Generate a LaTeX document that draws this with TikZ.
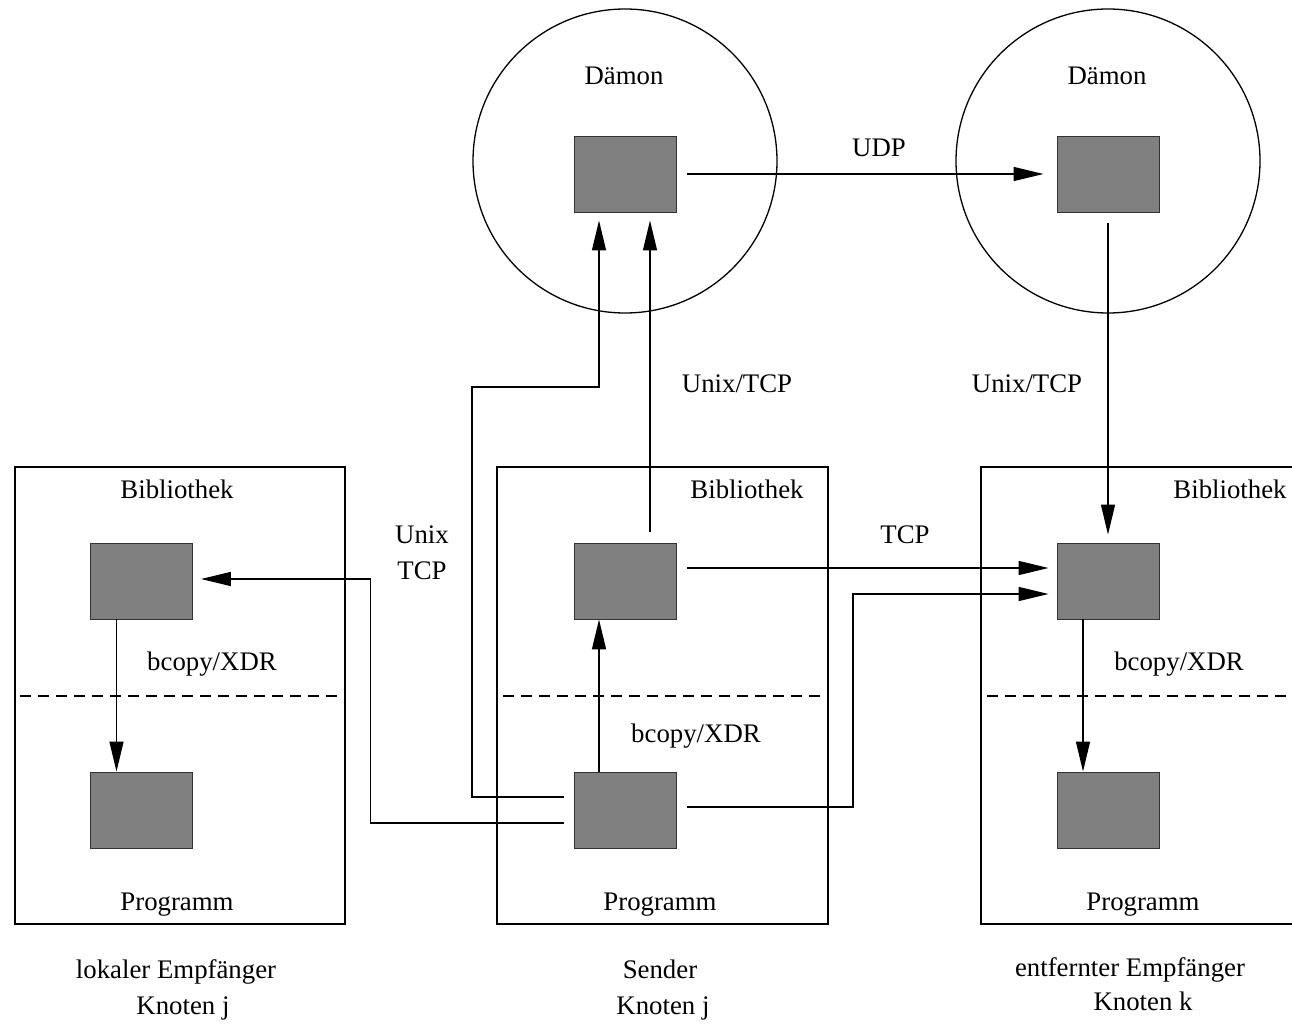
\documentclass[tikz,border=0pt]{standalone}
\usepackage{fontspec}
\setmainfont{Liberation Serif}
\usetikzlibrary{arrows.meta,calc}
\definecolor{sqfill}{HTML}{808080}
\definecolor{sqline}{HTML}{333333}
\tikzset{
  sq/.style={draw=sqline, line width=0.9pt, fill=sqfill, minimum width=102pt, minimum height=76pt, inner sep=0pt},
  container/.style={draw=black, line width=1.5pt, inner sep=0pt},
  daemonring/.style={draw=black, line width=1.3pt, circle, minimum size=304pt, inner sep=0pt},
  conn/.style={draw=black, line width=1.4pt},
  arr/.style={conn, -{Triangle[length=30pt,width=14pt]}},
  sepline/.style={draw=black, line width=1.4pt, dash pattern=on 11pt off 7pt},
  lbl/.style={anchor=base, inner sep=0pt}
}
\begin{document}
\begin{tikzpicture}[x=1pt,y=-1pt,font=\fontsize{26.8pt}{32pt}\selectfont]
\fill[white] (0,0) rectangle (1292,1024);
\useasboundingbox (0,0) rectangle (1292,1024);

% daemons
\node[daemonring] (c1) at (625,161) {};
\node[daemonring] (c2) at (1108,161) {};
\node[lbl] (t1) at (624,85) {Dämon};
\node[lbl] (t2) at (1107,85) {Dämon};

% containers
\node[container, minimum width=330pt, minimum height=457pt] (bl) at (180,695.5) {};
\node[container, minimum width=331pt, minimum height=457pt] (bm) at (662.5,695.5) {};
\draw[line width=1.5pt] (1293,467) -- (981,467) -- (981,924) -- (1293,924);

% separators
\draw[sepline] (20,696) -- (340,696);
\draw[sepline] (503,696) -- (823,696);
\draw[sepline] (987,696) -- (1292,696);

% squares
\node[sq] (d1) at (625,174) {};
\node[sq] (d2) at (1108,174) {};
\node[sq] (ll) at (141.5,581) {};
\node[sq] (pl) at (141.5,810) {};
\node[sq] (lm) at (625,581) {};
\node[sq] (pm) at (625,810) {};
\node[sq] (lr) at (1108,581) {};
\node[sq] (pr) at (1108,810) {};

% labels
\node[lbl] (bibl) at (177,498) {Bibliothek};
\node[lbl] (bibm) at (747,498) {Bibliothek};
\node[lbl] (bibr) at (1230,498) {Bibliothek};
\node[lbl] (bcl) at (212,670) {bcopy/XDR};
\node[lbl] (bcm) at (696,742) {bcopy/XDR};
\node[lbl] (bcr) at (1179,670) {bcopy/XDR};
\node[lbl] (prl) at (177,910) {Programm};
\node[lbl] (prm) at (660,910) {Programm};
\node[lbl] (prr) at (1143,910) {Programm};
\node[lbl] (udp) at (879,157) {UDP};
\node[lbl] (ut1) at (737,392) {Unix/TCP};
\node[lbl] (ut2) at (1027,392) {Unix/TCP};
\node[lbl] (tcp) at (905,543) {TCP};
\node[lbl] (unx) at (422,543) {Unix};
\node[lbl] (tcp2) at (422,579) {TCP};
\node[lbl] (cap1) at (176,978) {lokaler Empfänger};
\node[lbl] (cap2) at (183,1014) {Knoten j};
\node[lbl] (cap3) at (660,978) {Sender};
\node[lbl] (cap4) at (663,1014) {Knoten j};
\node[lbl] (cap5) at (1130,976) {entfernter Empfänger};
\node[lbl] (cap6) at (1143,1010) {Knoten k};

% helper corners
\coordinate (b1) at (472,387);
\coordinate (f1) at (853,594);

% connectors
\draw[arr] ([xshift=11pt]d1.east) -- ([xshift=-13pt]d2.west);
\draw[arr] ([shift={(-10,13)}]pm.west) -- ++(-193,0) |- ([shift={(8,-2)}]ll.east);
\draw[arr] ([shift={(-10,-13)}]pm.west) -| (b1) -| ([shift={(-26,8)}]d1.south);
\draw[arr] ([shift={(25,-11)}]lm.north) -- ([shift={(25,8)}]d1.south);
\draw[arr] ([shift={(0,11)}]d2.south) -- ([shift={(0,-8)}]lr.north);
\draw[arr] ([shift={(11,-13)}]lm.east) -- ([shift={(-8,-13)}]lr.west);
\draw[arr] ([shift={(11,-3)}]pm.east) -| (f1) -- ([shift={(-8,13)}]lr.west);
\draw[arr] ([xshift=-25pt]ll.south) -- ([xshift=-25pt]pl.north);
\draw[arr] ([xshift=-26pt]pm.north) -- ([xshift=-26pt]lm.south);
\draw[arr] ([xshift=-25pt]lr.south) -- ([xshift=-25pt]pr.north);
\end{tikzpicture}
\end{document}
